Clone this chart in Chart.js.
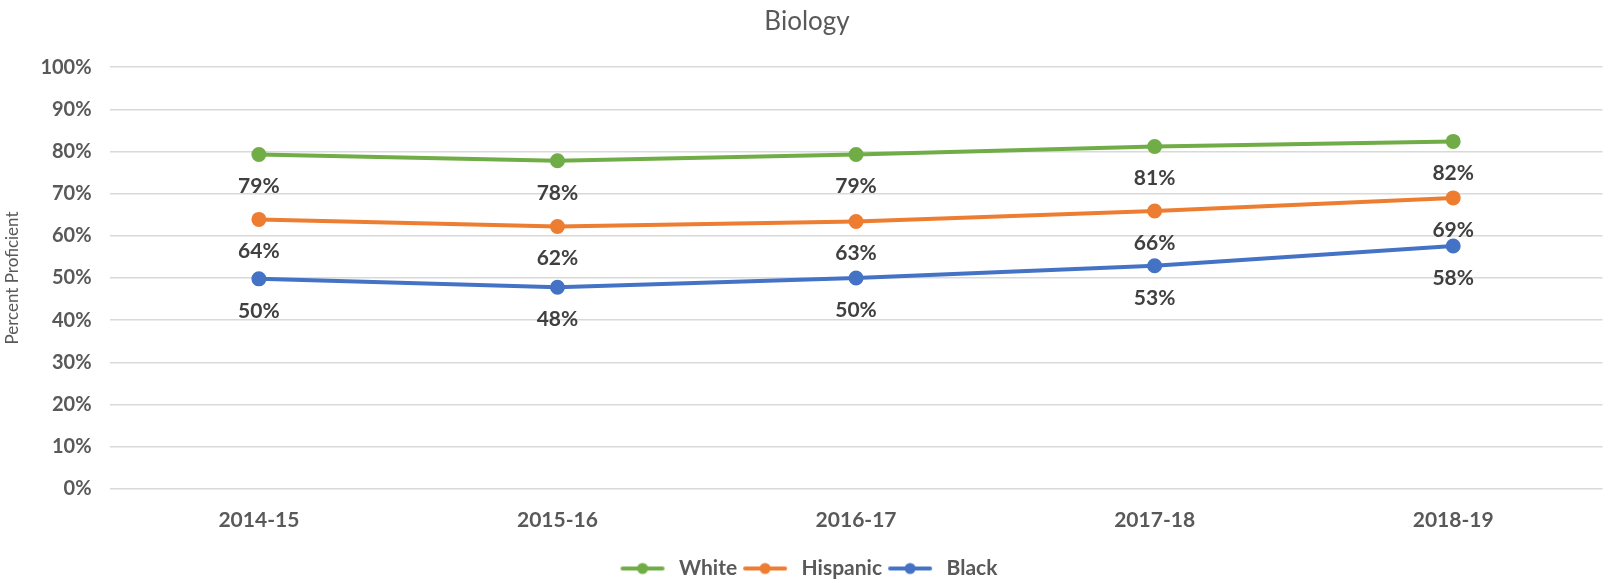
<!DOCTYPE html>
<html>
<head>
<meta charset="utf-8">
<script src="https://cdn.jsdelivr.net/npm/chart.js@4"></script>
<style>
  html, body { margin: 0; padding: 0; background: #fff; overflow: hidden; }
  canvas { display: block; }
</style>
</head>
<body>
<canvas id="bioChart" width="1612" height="583" style="width:1612px;height:583px"></canvas>
<script>
var years = ['2014-15', '2015-16', '2016-17', '2017-18', '2018-19'];
var whiteVals = [79.3, 77.8, 79.3, 81.2, 82.4];
var hispanicVals = [63.9, 62.2, 63.4, 65.9, 69.0];
var blackVals = [49.8, 47.8, 50.0, 52.9, 57.6];
var whiteLabels = ['79%', '78%', '79%', '81%', '82%'];
var hispanicLabels = ['64%', '62%', '63%', '66%', '69%'];
var blackLabels = ['50%', '48%', '50%', '53%', '58%'];

var fontName = "Lato, 'Open Sans', sans-serif";

// little line-with-dot marker for the legend
function legendMarker(color){
    var c = document.createElement('canvas');
    c.width = 46; c.height = 14;
    var ctx = c.getContext('2d');
    ctx.strokeStyle = color;
    ctx.lineWidth = 4;
    ctx.lineCap = 'round';
    ctx.beginPath();
    ctx.moveTo(3, 7); ctx.lineTo(43, 7);
    ctx.stroke();
    ctx.fillStyle = color;
    ctx.beginPath();
    ctx.arc(23, 7, 5.5, 0, Math.PI * 2);
    ctx.fill();
    return c;
}

// value labels drawn under each point
var pointLabels = {
    id: 'pointLabels',
    afterDatasetsDraw(chart){
        var ctx = chart.ctx;
        ctx.save();
        ctx.font = "bold 21px " + fontName;
        ctx.fillStyle = '#404040';
        ctx.textAlign = 'center';
        ctx.textBaseline = 'middle';
        chart.data.datasets.forEach(function(ds, i){
            var meta = chart.getDatasetMeta(i);
            meta.data.forEach(function(pt, j){
                ctx.fillText(ds.valueLabels[j], pt.x, pt.y + 32);
            });
        });
        ctx.restore();
    }
};

function makeSet(label, vals, labels, color){
    return {
        label: label,
        data: vals,
        valueLabels: labels,
        borderColor: color,
        backgroundColor: color,
        pointBackgroundColor: color,
        pointBorderColor: color,
        borderWidth: 4,
        pointRadius: 5.5,
        pointStyle: 'circle',
        tension: 0,
        marker: legendMarker(color)
    };
}

new Chart(document.getElementById('bioChart'), {
    type: 'line',
    data: {
        labels: years,
        datasets: [
            makeSet('White', whiteVals, whiteLabels, '#70AD47'),
            makeSet('Hispanic', hispanicVals, hispanicLabels, '#ED7D31'),
            makeSet('Black', blackVals, blackLabels, '#4472C4')
        ]
    },
    options: {
        responsive: false,
        maintainAspectRatio: false,
        devicePixelRatio: 1,
        animation: false,
        layout: { padding: { left: 2, right: 0, top: 6, bottom: -6 } },
        plugins: {
            title: {
                display: true,
                text: 'Biology',
                color: '#595959',
                font: { family: fontName, size: 26, weight: 'normal' },
                padding: { top: 0, bottom: 30 }
            },
            legend: {
                position: 'bottom',
                labels: {
                    usePointStyle: true,
                    pointStyleWidth: 52,
                    color: '#595959',
                    font: { family: fontName, size: 21, weight: 'bold' },
                    padding: 2,
                    generateLabels: function(chart){
                        return chart.data.datasets.map(function(ds, i){
                            return {
                                text: ds.label,
                                pointStyle: ds.marker,
                                fillStyle: ds.borderColor,
                                strokeStyle: ds.borderColor,
                                lineWidth: 0,
                                fontColor: '#595959',
                                datasetIndex: i
                            };
                        });
                    }
                }
            },
            tooltip: { enabled: false }
        },
        scales: {
            x: {
                offset: true,
                grid: { display: false },
                border: { display: false },
                ticks: {
                    color: '#595959',
                    font: { family: fontName, size: 21, weight: 'bold' },
                    padding: 11
                },
                afterFit: function(scale){ scale.height += 12; }
            },
            y: {
                min: 0,
                max: 100,
                border: { display: false },
                grid: { color: '#d9d9d9', lineWidth: 1.5, drawTicks: false },
                ticks: {
                    stepSize: 10,
                    color: '#595959',
                    font: { family: fontName, size: 20, weight: 'bold' },
                    padding: 18,
                    callback: function(v){ return v + '%'; }
                },
                title: {
                    display: true,
                    text: 'Percent Proficient',
                    color: '#595959',
                    font: { family: fontName, size: 17, weight: 'normal' },
                    padding: { top: 0, bottom: 0 }
                }
            }
        }
    },
    plugins: [pointLabels]
});
</script>
</body>
</html>
